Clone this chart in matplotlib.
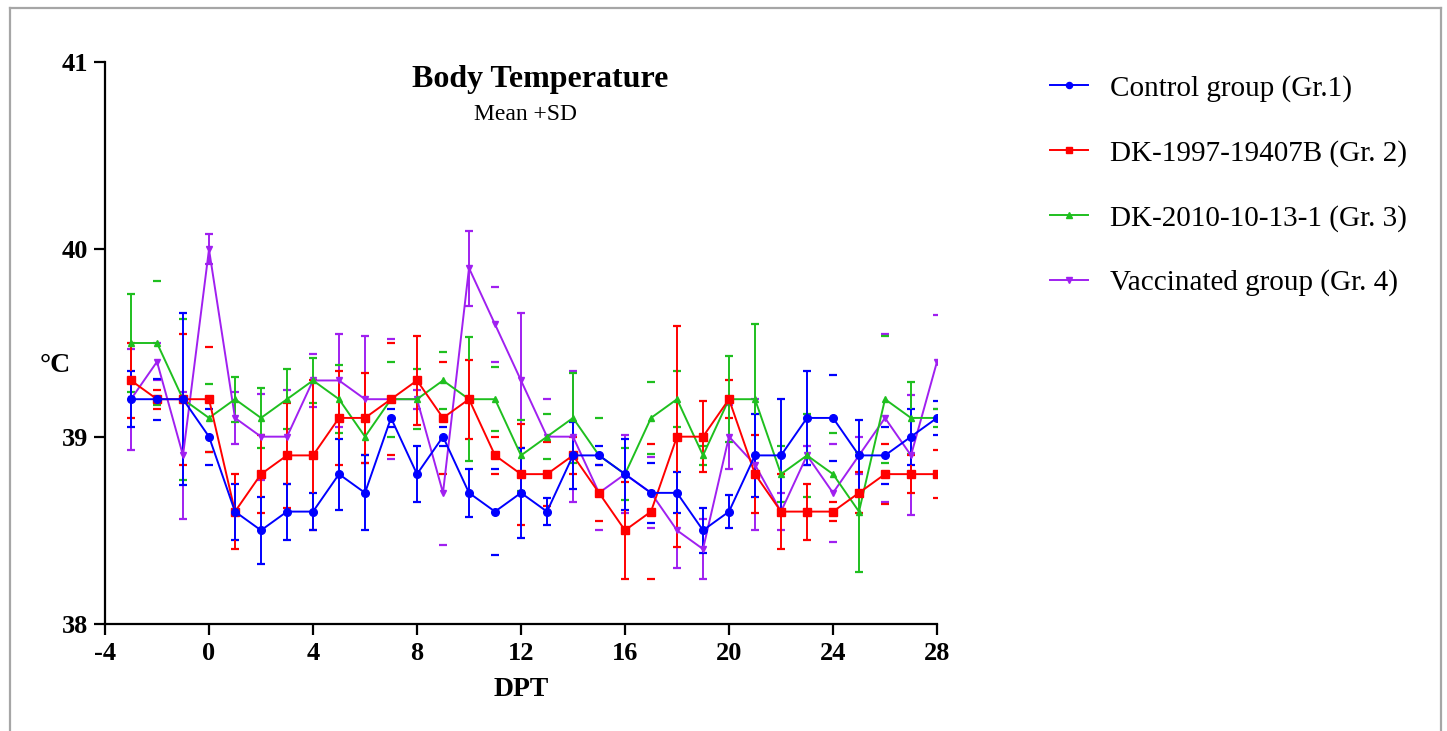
import matplotlib
matplotlib.use("Agg")
import matplotlib.pyplot as plt
from matplotlib.lines import Line2D
import numpy as np

plt.rcParams['font.family'] = ['Liberation Serif', 'DejaVu Serif']
plt.rcParams['axes.unicode_minus'] = False

# ---------------- data ----------------
dpt = list(range(-3, 29))

labels = ["Control group (Gr.1)", "DK-1997-19407B (Gr. 2)",
          "DK-2010-10-13-1 (Gr. 3)", "Vaccinated group (Gr. 4)"]

gr1_mean = [39.2, 39.2, 39.2, 39.0, 38.6, 38.5, 38.6, 38.6, 38.8, 38.7, 39.1, 38.8,
            39.0, 38.7, 38.6, 38.7, 38.6, 38.9, 38.9, 38.8, 38.7, 38.7, 38.5, 38.6,
            38.9, 38.9, 39.1, 39.1, 38.9, 38.9, 39.0, 39.1]
gr2_mean = [39.3, 39.2, 39.2, 39.2, 38.6, 38.8, 38.9, 38.9, 39.1, 39.1, 39.2, 39.3,
            39.1, 39.2, 38.9, 38.8, 38.8, 38.9, 38.7, 38.5, 38.6, 39.0, 39.0, 39.2,
            38.8, 38.6, 38.6, 38.6, 38.7, 38.8, 38.8, 38.8]
gr3_mean = [39.5, 39.5, 39.2, 39.1, 39.2, 39.1, 39.2, 39.3, 39.2, 39.0, 39.2, 39.2,
            39.3, 39.2, 39.2, 38.9, 39.0, 39.1, 38.9, 38.8, 39.1, 39.2, 38.9, 39.2,
            39.2, 38.8, 38.9, 38.8, 38.6, 39.2, 39.1, 39.1]
gr4_mean = [39.2, 39.4, 38.9, 40.0, 39.1, 39.0, 39.0, 39.3, 39.3, 39.2, 39.2, 39.2,
            38.7, 39.9, 39.6, 39.3, 39.0, 39.0, 38.7, 38.8, 38.7, 38.5, 38.4, 39.0,
            38.85, 38.6, 38.9, 38.7, 38.9, 39.1, 38.9, 39.4]

gr1_sd = [0.15, 0.11, 0.46, 0.15, 0.15, 0.18, 0.15, 0.10, 0.19, 0.20, 0.05, 0.15,
          0.05, 0.13, 0.23, 0.24, 0.07, 0.18, 0.05, 0.19, 0.16, 0.11, 0.12, 0.09,
          0.22, 0.30, 0.25, 0.23, 0.19, 0.15, 0.15, 0.09]
gr2_sd = [0.20, 0.05, 0.35, 0.28, 0.20, 0.21, 0.28, 0.40, 0.25, 0.24, 0.30, 0.24,
          0.30, 0.21, 0.10, 0.27, 0.17, 0.10, 0.15, 0.26, 0.36, 0.59, 0.19, 0.10,
          0.21, 0.20, 0.15, 0.05, 0.11, 0.16, 0.10, 0.13]
gr3_sd = [0.26, 0.33, 0.43, 0.18, 0.12, 0.16, 0.16, 0.12, 0.18, 0.10, 0.20, 0.16,
          0.15, 0.33, 0.17, 0.19, 0.12, 0.24, 0.20, 0.14, 0.19, 0.15, 0.05, 0.23,
          0.40, 0.15, 0.22, 0.22, 0.32, 0.34, 0.19, 0.05]
gr4_sd = [0.27, 0.10, 0.34, 0.08, 0.14, 0.23, 0.25, 0.14, 0.25, 0.34, 0.32, 0.05,
          0.28, 0.20, 0.20, 0.36, 0.20, 0.35, 0.20, 0.21, 0.19, 0.20, 0.16, 0.17,
          0.35, 0.10, 0.05, 0.26, 0.10, 0.45, 0.32, 0.25]

# style: which error bars show their vertical stem in the original rendering
gr1_stem = [1, 0, 1, 0, 1, 1, 1, 1, 1, 1, 0, 1, 0, 1, 0, 1, 1, 1, 0, 1, 0, 1, 1, 1,
            1, 1, 1, 0, 1, 0, 1, 0]
gr2_stem = [1, 0, 0, 0, 1, 1, 1, 1, 1, 1, 0, 1, 0, 1, 0, 1, 0, 0, 0, 1, 0, 1, 1, 0,
            1, 1, 1, 0, 0, 0, 1, 0]
gr3_stem = [1, 0, 0, 0, 1, 1, 1, 1, 0, 0, 0, 0, 0, 1, 0, 0, 0, 1, 0, 0, 0, 0, 0, 1,
            1, 0, 0, 0, 1, 0, 1, 0]
gr4_stem = [1, 0, 1, 1, 1, 0, 0, 0, 1, 1, 0, 0, 0, 1, 0, 1, 0, 1, 0, 1, 0, 1, 1, 1,
            1, 0, 0, 0, 0, 0, 1, 0]

colors = ['#0000ff', '#ff0000', '#1fbf1f', '#a020f0']
markers = ['o', 's', '^', 'v']
msizes = [5.5, 6, 5, 5]

means = [gr1_mean, gr2_mean, gr3_mean, gr4_mean]
sds = [gr1_sd, gr2_sd, gr3_sd, gr4_sd]
stems = [gr1_stem, gr2_stem, gr3_stem, gr4_stem]

# ---------------- figure ----------------
W, H = 1447, 731
fig = plt.figure(figsize=(W / 100, H / 100), dpi=100)
ax = fig.add_axes([105 / W, 1 - 624 / H, (937 - 105) / W, (624 - 62) / H])

x = np.array(dpt, dtype=float)
order = [3, 2, 1, 0]
handles = [None] * 4
for i in order:
    m = np.array(means[i])
    s = np.array(sds[i])
    st = np.array(stems[i], dtype=bool)
    c = colors[i]
    ax.vlines(x[st], (m - s)[st], (m + s)[st], colors=c, lw=1.4, zorder=2 + (3 - i) * 0.1)
    ax.plot(x, m + s, ls='none', marker='_', ms=6, mew=1.6, color=c, zorder=2)
    ax.plot(x, m - s, ls='none', marker='_', ms=6, mew=1.6, color=c, zorder=2)
    ln, = ax.plot(x, m, color=c, lw=1.4, marker=markers[i], ms=msizes[i],
                  mec=c, mfc=c, label=labels[i], zorder=3 + (3 - i) * 0.1)
    handles[i] = ln

ax.set_xlim(-4, 28)
ax.set_ylim(38, 41)
ax.set_xticks(np.arange(-4, 29, 4))
ax.set_yticks([38, 39, 40, 41])
for sp in ['top', 'right']:
    ax.spines[sp].set_visible(False)
for sp in ['left', 'bottom']:
    ax.spines[sp].set_linewidth(1.6)
ax.tick_params(axis='both', direction='out', length=8, width=1.6)
ax.tick_params(axis='x', pad=5)
ax.tick_params(axis='y', pad=4)
for lab in ax.get_xticklabels() + ax.get_yticklabels():
    lab.set_fontsize(19)
    lab.set_fontweight('bold')

# titles and labels
fig.text(540 / W, 1 - 80 / H, "Body Temperature", ha='center', va='center',
         fontsize=23, fontweight='bold')
fig.text(525 / W, 1 - 115 / H, "Mean +SD", ha='center', va='center', fontsize=17)
fig.text(55 / W, 1 - 365 / H, "°C", ha='center', va='center', fontsize=20,
         fontweight='bold')
fig.text(521 / W, 1 - 690 / H, "DPT", ha='center', va='center', fontsize=20,
         fontweight='bold')

# legend
leg = fig.legend(handles=handles, loc='upper left',
                 bbox_to_anchor=(1050 / W, 1 - 75 / H), frameon=False,
                 fontsize=21, handlelength=1.3, handletextpad=0.75,
                 labelspacing=1.3, borderpad=0, borderaxespad=0, markerscale=0.8)

# light gray frame around the picture
fc = '#a6a6a6'
fig.add_artist(Line2D([10 / W, 10 / W], [0, 1 - 8 / H], color=fc, lw=1.6))
fig.add_artist(Line2D([10 / W, 1441 / W], [1 - 8 / H, 1 - 8 / H], color=fc, lw=1.6))
fig.add_artist(Line2D([1441 / W, 1441 / W], [0, 1 - 8 / H], color=fc, lw=1.6))

fig.savefig("out.png", dpi=100)
